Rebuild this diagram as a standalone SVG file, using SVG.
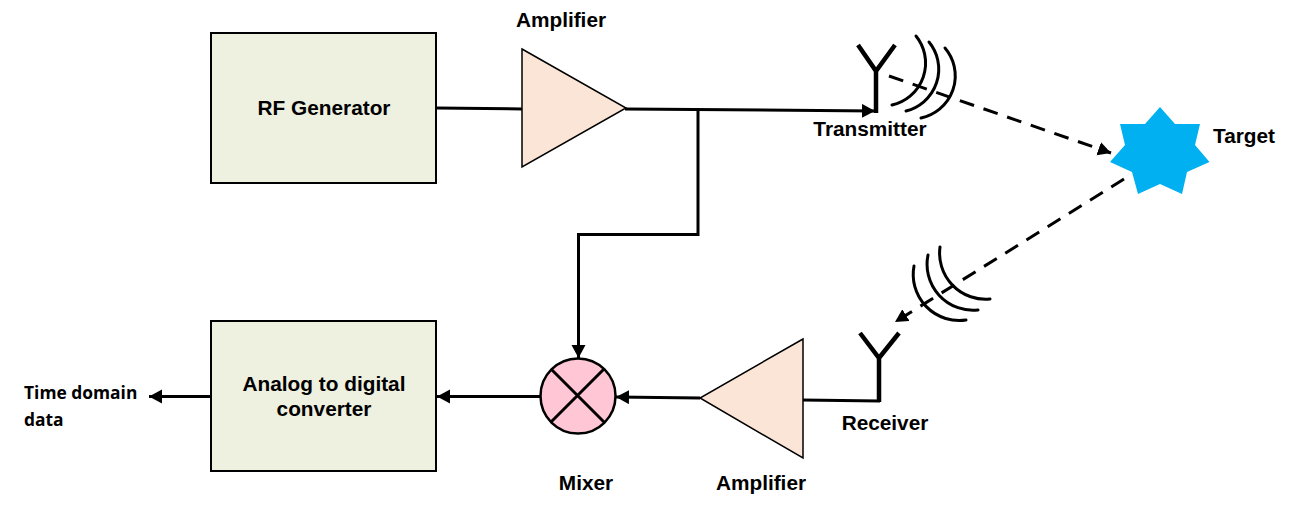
<svg xmlns="http://www.w3.org/2000/svg" width="1312" height="508" viewBox="0 0 1312 508">
<style>
text{font-family:"Liberation Sans",Arial,sans-serif;font-weight:700;font-size:20.8px;fill:#000}
.o{font-family:"Open Sans","Noto Sans",sans-serif;font-size:17.4px}
.box{fill:#eef0e0;stroke:#000;stroke-width:2}
.amp{fill:#fbe5d6;stroke:#000;stroke-width:1.5}
.w{fill:none;stroke:#000;stroke-width:3}
.a{fill:none;stroke:#000;stroke-width:3;stroke-linecap:round}
.ant{fill:none;stroke:#000;stroke-width:4.5}
.d{fill:none;stroke:#000;stroke-width:3;stroke-dasharray:15 10}
</style>
<defs>
<marker id="ah" markerUnits="userSpaceOnUse" markerWidth="15" markerHeight="15" refX="13" refY="7" orient="auto"><path d="M0 0L13 7L0 14Z" fill="#000"/></marker>
</defs>
<g id="connectors">
<path class="w" d="M436 108L522 109"/>
<path class="w" d="M625 109L875 111" marker-end="url(#ah)"/>
<path class="w" d="M698 110V234.500H578.500V358" marker-end="url(#ah)"/>
<path class="w" d="M700 398L616 397" marker-end="url(#ah)"/>
<path class="w" d="M540 396.500H437" marker-end="url(#ah)"/>
<path class="w" d="M211 396.500H149" marker-end="url(#ah)"/>
<path class="w" d="M802 400L880 401"/>
<path class="d" d="M889 76L1111 153" marker-end="url(#ah)"/>
<path class="d" d="M1124 179L895 322" marker-end="url(#ah)"/>
</g>
<g id="rf-generator"><rect class="box" x="211" y="33" width="225" height="150"/><text x="324" y="115" text-anchor="middle">RF Generator</text></g>
<g id="adc"><rect class="box" x="211" y="321" width="225" height="150"/><text x="324" y="391" text-anchor="middle">Analog to digital</text><text x="324" y="416" text-anchor="middle">converter</text></g>
<g id="amplifier-tx"><path class="amp" d="M522 49L626 108L522 167Z"/><text x="561" y="27" text-anchor="middle">Amplifier</text></g>
<g id="amplifier-rx"><path class="amp" d="M803 339L700 398L803 458Z"/><text x="761" y="490" text-anchor="middle">Amplifier</text></g>
<g id="mixer"><circle cx="578" cy="396" r="37.500" fill="#ffc7d5" stroke="#000" stroke-width="2.500"/><path class="w" d="M551 369L604 422M604 369L551 422"/><text x="586" y="490" text-anchor="middle">Mixer</text></g>
<g id="transmitter"><path class="ant" d="M876 113V71M858 45L876 71L895 45"/><path class="a" d="M916 36A43 43 0 0 1 892 105"/><path class="a" d="M929 42A43 43 0 0 1 906 111"/><path class="a" d="M945 48A43 43 0 0 1 921 118"/><text x="870" y="136" text-anchor="middle">Transmitter</text></g>
<g id="target"><path fill="#00b0f0" d="M1160 107L1175 124H1200L1195 145L1209.500 162L1187 172L1182 194L1160 184L1138 194L1132 172L1110 162L1125 145L1120 124H1145Z"/><text x="1244" y="143" text-anchor="middle">Target</text></g>
<g id="receiver"><path class="ant" d="M879 402V358M860 333L879 358L899 333"/><path class="a" d="M940 247A46 46 0 0 0 990 299"/><path class="a" d="M928 255A46 46 0 0 0 978 310"/><path class="a" d="M914 266A46 46 0 0 0 966 320"/><text x="885" y="430" text-anchor="middle">Receiver</text></g>
<g id="output"><text class="o" x="24" y="399">Time domain</text><text class="o" x="24" y="426">data</text></g>
</svg>
